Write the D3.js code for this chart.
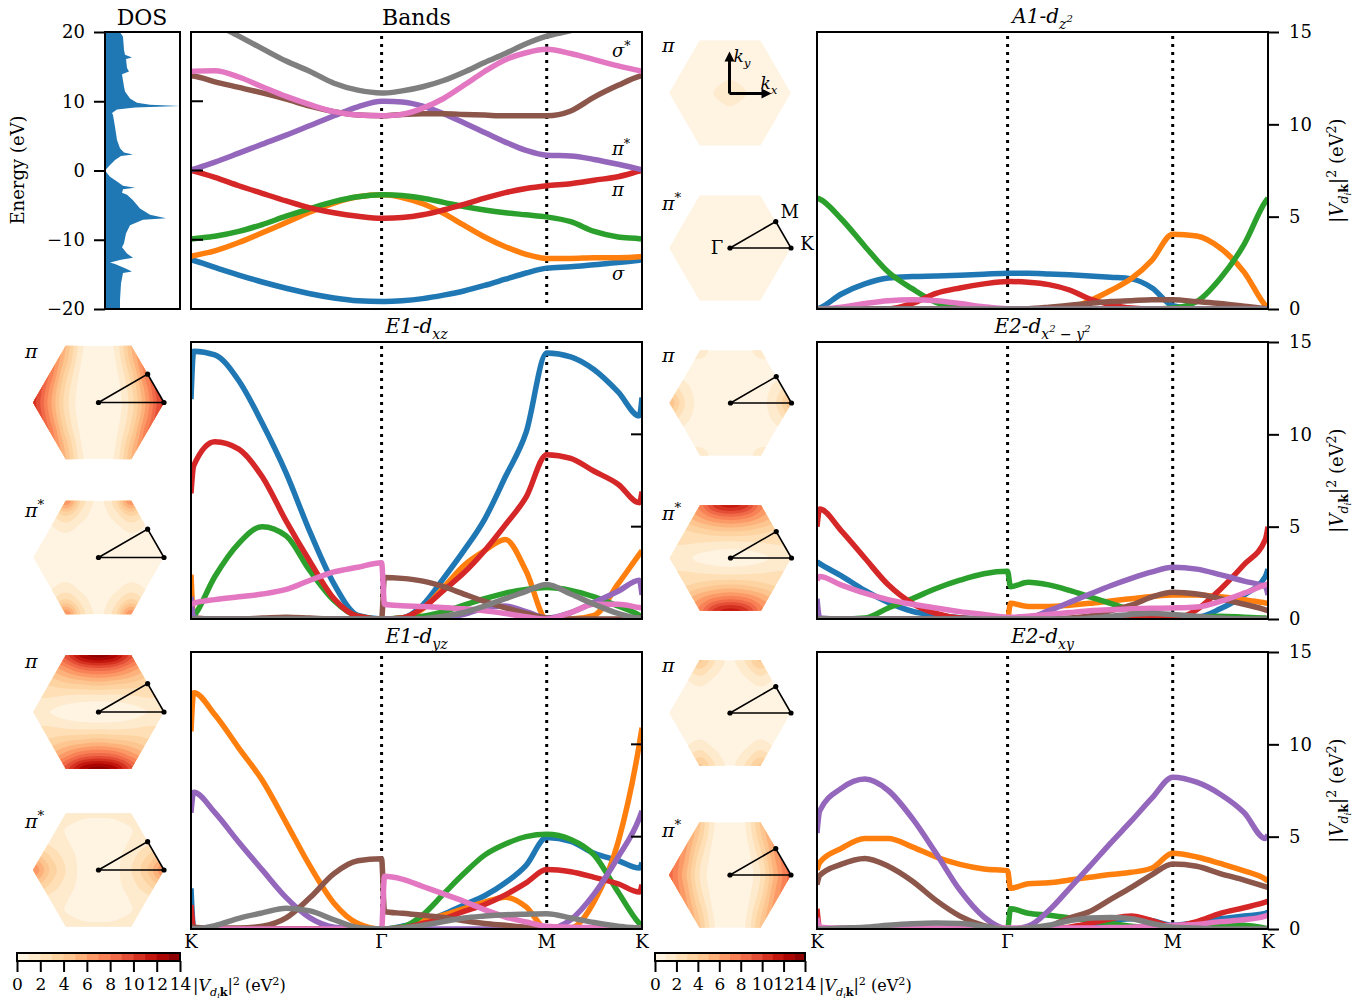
<!DOCTYPE html>
<html>
<head>
<meta charset="utf-8">
<script src="https://cdn.jsdelivr.net/npm/d3@7"></script>
<style>
  body { margin: 0; background: #fff; }
  text { font-family: "DejaVu Serif", serif; fill: #000; }
</style>
</head>
<body>
<svg id="fig" width="1371" height="1003"></svg>
<script>
// k-path positions as fraction of K-G-M-K length
const kPts = [0, 0.006, 0.053, 0.106, 0.158, 0.211, 0.264, 0.317, 0.370, 0.4226, 0.429, 0.468, 0.514, 0.560, 0.605, 0.651, 0.697, 0.743, 0.7887, 0.842, 0.894, 0.947, 0.994, 1];
const pathTicks = [0, 0.4226, 0.7887, 1];
const pathLabels = ["K", "Γ", "M", "K"];
const bandColors = ["#1f77b4", "#ff7f0e", "#2ca02c", "#d62728", "#9467bd", "#8c564b", "#e377c2", "#7f7f7f"];

// band energies (eV), order: blue, orange, green, red, purple, brown, pink, gray
const bandsE = [
  [-12.9, -13.0, -14.0, -15.1, -16.1, -17.0, -17.8, -18.4, -18.8, -18.9, -18.9, -18.8, -18.5, -18.0, -17.4, -16.6, -15.7, -14.8, -14.1, -13.9, -13.6, -13.3, -12.95, -12.9],
  [-12.4, -12.3, -11.6, -10.4, -9.0, -7.5, -6.0, -4.7, -3.8, -3.5, -3.5, -3.9, -4.8, -6.2, -7.9, -9.6, -11.0, -12.1, -12.7, -12.7, -12.6, -12.6, -12.45, -12.4],
  [-9.9, -9.85, -9.5, -8.8, -7.8, -6.6, -5.5, -4.5, -3.8, -3.5, -3.5, -3.6, -4.0, -4.6, -5.2, -5.7, -6.1, -6.4, -6.7, -7.4, -8.8, -9.6, -9.85, -9.9],
  [0, -0.1, -1.0, -2.2, -3.3, -4.4, -5.4, -6.1, -6.6, -6.9, -6.9, -6.8, -6.4, -5.7, -4.9, -4.0, -3.2, -2.6, -2.2, -1.9, -1.4, -0.9, -0.1, 0],
  [0.1, 0.2, 1.2, 2.5, 3.8, 5.1, 6.5, 7.9, 9.2, 10.0, 10.0, 9.9, 9.3, 8.2, 6.9, 5.5, 4.1, 2.9, 2.2, 2.1, 1.6, 0.9, 0.2, 0.1],
  [13.7, 13.65, 12.8, 12.0, 11.2, 10.3, 9.3, 8.5, 8.0, 7.9, 7.9, 8.1, 8.2, 8.2, 8.1, 8.0, 7.9, 7.9, 7.9, 8.6, 10.6, 12.3, 13.6, 13.7],
  [14.3, 14.35, 14.4, 13.5, 12.1, 10.7, 9.5, 8.5, 8.0, 7.9, 7.9, 8.1, 9.0, 10.4, 12.3, 14.3, 16.0, 17.0, 17.5, 16.9, 16.0, 15.1, 14.4, 14.3],
  [23.0, 22.9, 21.2, 19.4, 17.6, 15.8, 14.3, 12.6, 11.6, 11.2, 11.2, 11.5, 12.1, 13.0, 14.2, 15.6, 16.9, 18.3, 19.4, 20.2, 21.2, 22.2, 22.9, 23.0]
];

// |V_dk|^2 (eV^2) per band
const a1Dz2 = [
  [0, 0.05, 0.8, 1.36, 1.68, 1.76, 1.79, 1.83, 1.88, 1.94, 1.94, 1.94, 1.9, 1.85, 1.79, 1.72, 1.63, 1.14, 0.18, 0, 0, 0, 0, 0],
  [0, 0, 0, 0, 0, 0, 0, 0, 0, 0, 0, 0, 0, 0.05, 0.45, 1.0, 1.65, 2.65, 4.05, 3.95, 3.3, 2.0, 0.2, 0.05],
  [6.0, 5.95, 4.9, 3.4, 2.0, 1.1, 0.36, 0.1, 0.05, 0, 0, 0, 0, 0, 0, 0, 0, 0, 0.05, 0.4, 1.65, 3.5, 5.8, 6.0],
  [0, 0, 0, 0, 0, 0.3, 0.85, 1.14, 1.36, 1.49, 1.49, 1.45, 1.32, 1.03, 0.54, 0.24, 0.05, 0, 0, 0, 0, 0, 0, 0],
  [0, 0, 0, 0, 0, 0, 0, 0, 0, 0, 0, 0, 0, 0, 0, 0, 0, 0, 0, 0, 0, 0, 0, 0],
  [0, 0, 0, 0, 0, 0, 0, 0, 0, 0, 0, 0.02, 0.1, 0.2, 0.3, 0.4, 0.45, 0.5, 0.5, 0.4, 0.3, 0.15, 0.02, 0],
  [0, 0, 0.1, 0.3, 0.45, 0.5, 0.45, 0.3, 0.12, 0.02, 0.02, 0, 0, 0, 0, 0, 0, 0, 0, 0, 0, 0, 0, 0],
  [0, 0, 0, 0, 0, 0, 0, 0, 0, 0, 0, 0, 0, 0, 0, 0, 0, 0, 0, 0, 0, 0, 0, 0]
];
const e1Dxz = [
  [11.9, 14.5, 14.3, 12.9, 10.6, 7.9, 4.7, 1.9, 0.2, 0, 0, 0.05, 0.76, 2.2, 3.7, 5.4, 7.7, 10.1, 14.4, 14.2, 13.5, 12.3, 11.0, 12.0],
  [2.4, 0.05, 0, 0, 0, 0, 0, 0, 0, 0, 0, 0.05, 0.55, 1.7, 2.9, 3.7, 4.3, 2.6, 0, 0, 0.2, 1.9, 3.5, 3.7],
  [0, 0.15, 2.3, 4.1, 5.0, 4.5, 2.6, 1.0, 0.15, 0, 0, 0.05, 0.15, 0.4, 0.75, 1.1, 1.4, 1.6, 1.7, 1.55, 1.2, 0.7, 0.2, 0.1],
  [6.8, 8.3, 9.6, 9.2, 7.7, 5.3, 3.1, 1.1, 0.15, 0, 0, 0.05, 0.6, 1.55, 2.5, 3.7, 5.1, 6.6, 8.9, 8.7, 8.0, 7.3, 6.3, 6.9],
  [1.2, 0.05, 0, 0, 0, 0, 0, 0, 0, 0, 0, 0, 0, 0.05, 0.25, 0.6, 0.7, 0.4, 0.05, 0.35, 0.9, 1.5, 2.1, 1.3],
  [0, 0, 0, 0, 0.05, 0.1, 0.05, 0, 0, 0, 2.25, 2.2, 2.05, 1.75, 1.35, 0.95, 0.6, 0.3, 0.05, 0, 0, 0, 0.05, 0.1],
  [0.8, 0.85, 1.05, 1.2, 1.35, 1.6, 2.1, 2.55, 2.8, 3.05, 0.8, 0.72, 0.68, 0.62, 0.55, 0.45, 0.3, 0.12, 0, 0.35, 0.8, 0.8, 0.62, 0.6],
  [0, 0, 0, 0, 0, 0, 0, 0, 0, 0, 0, 0, 0.02, 0.15, 0.35, 0.7, 1.1, 1.5, 1.87, 1.35, 0.8, 0.3, 0.05, 0.05]
];
const e2Dx2y2 = [
  [3.1, 3.0, 2.35, 1.55, 0.9, 0.42, 0.2, 0.07, 0.02, 0, 0, 0, 0, 0, 0, 0, 0.02, 0.05, 0.1, 0.1, 0.55, 1.3, 2.3, 2.7],
  [0, 0, 0, 0, 0, 0, 0, 0, 0, 0, 0.85, 0.68, 0.68, 0.75, 0.85, 0.98, 1.1, 1.22, 1.3, 1.3, 1.2, 1.05, 0.87, 0.85],
  [0, 0, 0, 0.05, 0.6, 1.1, 1.65, 2.1, 2.45, 2.58, 1.75, 1.99, 1.85, 1.55, 1.2, 0.85, 0.5, 0.3, 0.15, 0.1, 0.15, 0.1, 0.05, 0],
  [5.0, 5.95, 4.8, 3.3, 1.85, 0.85, 0.3, 0.05, 0, 0, 0, 0, 0, 0.02, 0.05, 0.08, 0.1, 0.05, 0, 0.5, 1.6, 2.95, 4.3, 5.0],
  [1.1, 0.05, 0, 0, 0, 0, 0, 0, 0, 0, 0, 0.05, 0.45, 0.9, 1.35, 1.8, 2.2, 2.55, 2.8, 2.7, 2.4, 2.05, 1.75, 1.3],
  [0, 0, 0, 0, 0, 0, 0, 0, 0, 0, 0, 0, 0, 0.05, 0.17, 0.45, 0.75, 1.2, 1.45, 1.35, 1.1, 0.8, 0.5, 0.45],
  [2.1, 2.3, 1.85, 1.4, 1.05, 0.8, 0.6, 0.4, 0.25, 0.1, 0.1, 0.15, 0.25, 0.35, 0.45, 0.5, 0.55, 0.58, 0.6, 0.65, 0.95, 1.4, 1.85, 1.9],
  [0, 0, 0, 0, 0, 0, 0, 0, 0, 0, 0, 0, 0, 0, 0.05, 0.15, 0.25, 0.3, 0.25, 0.15, 0.05, 0, 0, 0]
];
const e1Dyz = [
  [2.2, 0.05, 0, 0, 0, 0, 0, 0, 0, 0, 0, 0.15, 0.4, 0.8, 1.3, 1.8, 2.5, 3.45, 4.95, 4.75, 4.1, 3.7, 3.3, 3.6],
  [10.7, 12.8, 11.6, 9.8, 8.05, 5.75, 3.4, 1.4, 0.3, 0, 0, 0.1, 0.45, 0.75, 1.1, 1.45, 1.72, 1.2, 0, 0.05, 1.5, 4.7, 10.0, 10.9],
  [0, 0, 0, 0, 0, 0, 0, 0, 0, 0, 0, 0.1, 0.77, 1.9, 3.0, 4.0, 4.6, 5.0, 5.13, 4.85, 4.0, 2.0, 0.3, 0.15],
  [1.3, 0.05, 0, 0, 0, 0, 0, 0, 0, 0, 0, 0.05, 0.3, 0.56, 0.95, 1.33, 1.85, 2.5, 3.22, 3.1, 2.8, 2.45, 2.0, 2.4],
  [6.3, 7.4, 6.3, 4.7, 3.2, 1.7, 0.6, 0.1, 0, 0, 0, 0, 0, 0, 0, 0, 0, 0, 0, 0.5, 1.9, 3.9, 6.0, 6.4],
  [0.15, 0.1, 0.05, 0.05, 0.15, 0.6, 1.7, 3.0, 3.7, 3.8, 0.95, 0.85, 0.75, 0.62, 0.45, 0.3, 0.2, 0.1, 0.05, 0, 0, 0, 0, 0],
  [0, 0, 0, 0, 0, 0, 0, 0, 0, 0, 2.85, 2.7, 2.3, 1.9, 1.5, 1.05, 0.65, 0.38, 0.15, 0.1, 0.08, 0.05, 0.05, 0.05],
  [0, 0, 0.18, 0.58, 0.87, 1.12, 0.98, 0.5, 0.08, 0, 0, 0.05, 0.2, 0.4, 0.6, 0.7, 0.77, 0.8, 0.82, 0.6, 0.35, 0.15, 0.05, 0.05]
];
const e2Dxy = [
  [0, 0, 0, 0, 0, 0, 0, 0, 0, 0, 0, 0, 0, 0, 0.2, 0.45, 0.55, 0.45, 0.2, 0.35, 0.55, 0.7, 0.85, 0.9],
  [3.2, 3.6, 4.35, 4.9, 4.9, 4.45, 3.9, 3.5, 3.25, 3.16, 2.2, 2.45, 2.5, 2.65, 2.8, 2.95, 3.07, 3.3, 4.1, 3.9, 3.55, 3.15, 2.7, 2.6],
  [0, 0, 0, 0, 0, 0, 0, 0, 0, 0, 1.1, 0.85, 0.75, 0.6, 0.45, 0.3, 0.15, 0.05, 0, 0.1, 0.25, 0.2, 0.05, 0],
  [1.1, 0.05, 0, 0, 0, 0, 0, 0, 0, 0, 0, 0, 0, 0.1, 0.3, 0.55, 0.7, 0.45, 0.15, 0.4, 0.85, 1.15, 1.45, 1.5],
  [5.2, 6.4, 7.6, 8.12, 7.5, 6.0, 4.1, 2.1, 0.65, 0, 0, 0.15, 1.0, 2.2, 3.4, 4.65, 5.85, 7.1, 8.22, 7.95, 7.3, 6.3, 4.9, 5.1],
  [2.4, 2.9, 3.5, 3.82, 3.4, 2.6, 1.55, 0.7, 0.18, 0, 0, 0, 0.15, 0.6, 0.95, 1.6, 2.25, 2.95, 3.52, 3.4, 3.0, 2.65, 2.3, 2.25],
  [0.6, 0.1, 0.05, 0.05, 0.05, 0.05, 0.05, 0.05, 0.05, 0.05, 0.05, 0.05, 0.05, 0.05, 0.05, 0.08, 0.1, 0.15, 0.2, 0.25, 0.4, 0.5, 0.7, 0.75],
  [0, 0, 0.05, 0.1, 0.2, 0.28, 0.32, 0.3, 0.15, 0, 0, 0.05, 0.2, 0.45, 0.6, 0.62, 0.55, 0.3, 0.1, 0.05, 0, 0, 0, 0]
];

// density of states (arb. units) vs energy
const dosE = [20.0, 19.3, 17.4, 16.7, 16.3, 16.1, 14.8, 14.3, 13.9, 12.1, 11.4, 10.4, 9.8, 9.5, 9.3, 9.1, 8.8, 8.3, 8.0, 6.3, 4.4, 3.2, 2.6, 2.3, 2.1, 1.5, 0.8, 0, -0.9, -1.6, -2.2, -2.5, -2.7, -3.2, -3.5, -4.3, -5.5, -6.4, -6.9, -7.1, -7.9, -9.1, -10.5, -11.1, -12.0, -12.6, -12.9, -13.3, -13.5, -14.1, -14.6, -14.8, -16.3, -18.7, -19.7, -20];
const dosVal = [15, 18, 19, 20, 27, 21, 22, 24, 17, 19, 20, 25, 32, 45, 75, 30, 12, 7, 8, 10, 12, 15, 19, 28, 16, 10, 5, 0, 5, 12, 18, 30, 18, 17, 22, 28, 35, 45, 61, 38, 25, 21, 19, 17, 22, 28, 16, 5, 10, 20, 27, 18, 16, 15, 15, 15];

// hexagon maps: quarter grids, rows ky = 0..top edge, cols kx = 0..K vertex
const mapA1Pi = [[1.6, 1.05, 0.3, 0.3, 0.3], [1.0, 0.6, 0.3, 0.3, 0.3], [0.3, 0.3, 0.3, 0.3, 0.3], [0.3, 0.3, 0.3, 0.3, 0.3], [0.3, 0.3, 0.3, 0.3, 0.3]];
const mapA1PiS = [[0.3, 0.3, 0.3, 0.3, 0.3], [0.3, 0.3, 0.3, 0.3, 0.3], [0.3, 0.3, 0.3, 0.3, 0.3], [0.3, 0.3, 0.3, 0.3, 0.3], [0.3, 0.3, 0.3, 0.3, 0.3]];
const mapE1xzPi = [[0, 0.3, 2.5, 6.5, 10.5], [0, 0.4, 2.8, 7.0, 11], [0, 0.6, 3.5, 8.0, 11], [0, 0.9, 4.5, 8.5, 11], [0.1, 1.2, 5.0, 9, 11]];
const mapE1xzPiS = [[0.2, 0.2, 0.3, 0.2, 0.1], [0.2, 0.3, 0.5, 0.3, 0.1], [0.3, 0.6, 1.3, 0.7, 0.2], [0.5, 1.5, 3.2, 1.5, 0.3], [0.8, 2.6, 7.0, 2.6, 0.5]];
const mapE2x2Pi = [[0.1, 0.2, 0.6, 2.0, 4.8], [0.1, 0.2, 0.5, 1.5, 3.0], [0.1, 0.2, 0.4, 0.8, 1.5], [0.1, 0.2, 0.6, 0.8, 1.0], [0.1, 0.3, 1.8, 1.0, 0.5]];
const mapE2x2PiS = [[0.5, 0.6, 0.8, 1.2, 1.5], [1.5, 1.6, 1.8, 2.0, 2.0], [4.0, 3.8, 3.3, 2.8, 2.5], [7.5, 7.0, 5.8, 4.5, 3.5], [11.5, 10.5, 7.5, 6, 4]];
const mapE1yzPi = [[0.3, 0.4, 0.6, 1.0, 1.0], [1.5, 1.5, 1.7, 2.0, 2.0], [4.5, 4.2, 3.8, 3.2, 3.0], [8.5, 8.0, 6.5, 5, 4], [13.5, 12.5, 9.5, 7, 5]];
const mapE1yzPiS = [[0.4, 0.7, 2.0, 4.0, 7.0], [0.4, 0.7, 1.6, 3.0, 4.5], [0.4, 0.6, 1.1, 1.7, 2.5], [0.5, 0.7, 1.0, 1.2, 1.5], [1.2, 1.2, 1.5, 1.3, 1.0]];
const mapE2xyPi = [[0.2, 0.2, 0.3, 0.2, 0.1], [0.2, 0.3, 0.4, 0.3, 0.1], [0.3, 0.5, 1.0, 0.5, 0.2], [0.5, 1.2, 2.3, 1.2, 0.3], [0.8, 2.1, 4.2, 2.1, 0.5]];
const mapE2xyPiS = [[0, 0.3, 2.0, 5.5, 8.5], [0, 0.4, 2.3, 6.0, 8.5], [0, 0.5, 3.0, 6.5, 8.5], [0, 0.8, 3.8, 7.0, 8.5], [0.1, 1.0, 4.2, 7.0, 8.5]];

const cbTicks = [0, 2, 4, 6, 8, 10, 12, 14];
const levelColor = t => d3.interpolateOrRd((t + 0.5) / 14);

const svg = d3.select("#fig");
let clipN = 0;

function rich(g, x, y, parts, size, opt) {
  opt = opt || {};
  const t = g.append("text").attr("x", x).attr("y", y).attr("font-size", size)
    .attr("text-anchor", opt.anchor || "middle");
  if (opt.rotate) t.attr("transform", `rotate(-90,${x},${y})`);
  if (opt.italic) t.attr("font-style", "italic");
  let cur = 0;
  parts.forEach(p => {
    const s = (p.s || 0) * size;
    const ts = t.append("tspan").text(p.t).attr("dy", s - cur);
    cur = s;
    if (p.z) ts.attr("font-size", size * p.z);
    if (p.i) ts.attr("font-style", "italic");
    if (p.b) ts.attr("font-weight", "bold");
  });
  return t;
}
const vdkParts = [{ t: "|" }, { t: "V", i: 1 }, { t: "d", i: 1, z: 0.7, s: 0.3 }, { t: "i", i: 1, z: 0.5, s: 0.45 },
  { t: "k", b: 1, z: 0.7, s: 0.3 }, { t: "|", s: 0 }, { t: "2", z: 0.7, s: -0.4 }, { t: " (eV", s: 0 }, { t: "2", z: 0.7, s: -0.4 }, { t: ")", s: 0 }];

function panel(cfg) {
  const x = d3.scaleLinear().domain([0, 1]).range([cfg.x0, cfg.x1]);
  const y = d3.scaleLinear().domain(cfg.yDom).range([cfg.y1, cfg.y0]);
  const g = svg.append("g");
  const id = "clip" + (clipN++);
  g.append("clipPath").attr("id", id).append("rect")
    .attr("x", cfg.x0).attr("y", cfg.y0).attr("width", cfg.x1 - cfg.x0).attr("height", cfg.y1 - cfg.y0);
  const inner = g.append("g").attr("clip-path", `url(#${id})`);
  [pathTicks[1], pathTicks[2]].forEach(k => {
    inner.append("line").attr("x1", x(k)).attr("x2", x(k)).attr("y1", cfg.y0 + 4).attr("y2", cfg.y1)
      .attr("stroke", "#000").attr("stroke-width", 3).attr("stroke-dasharray", "3,5");
  });
  const line = d3.line().x((d, j) => x(kPts[j])).y(d => y(d)).curve(d3.curveMonotoneX);
  cfg.series.forEach((vals, i) => {
    inner.append("path").attr("d", line(vals)).attr("fill", "none")
      .attr("stroke", bandColors[i]).attr("stroke-width", 5.5).attr("stroke-linejoin", "round");
  });
  g.append("rect").attr("x", cfg.x0).attr("y", cfg.y0).attr("width", cfg.x1 - cfg.x0).attr("height", cfg.y1 - cfg.y0)
    .attr("fill", "none").attr("stroke", "#000").attr("stroke-width", 2);
  if (cfg.xLabels) {
    pathTicks.forEach((k, i) => g.append("text").attr("x", x(k)).attr("y", cfg.y1 + 19)
      .attr("text-anchor", "middle").attr("font-size", 18).text(pathLabels[i]));
  }
  return { x, y, g };
}

// DOS panel
const dosX = d3.scaleLinear().domain([0, 75]).range([105, 180]);
const eY = d3.scaleLinear().domain([-20, 20]).range([309, 32]);
svg.append("path")
  .attr("d", d3.area().y((d, i) => eY(dosE[i])).x0(dosX(0)).x1(d => dosX(d))(dosVal))
  .attr("fill", "#1f77b4");
svg.append("rect").attr("x", 105).attr("y", 32).attr("width", 75).attr("height", 277)
  .attr("fill", "none").attr("stroke", "#000").attr("stroke-width", 2);
const eAxis = svg.append("g").attr("transform", "translate(105,0)")
  .call(d3.axisLeft(eY).tickValues([-20, -10, 0, 10, 20]).tickSize(11).tickPadding(9).tickFormat(d => d < 0 ? "−" + (-d) : d));
eAxis.select(".domain").remove();
eAxis.selectAll("line").attr("stroke-width", 2);
eAxis.selectAll("text").attr("font-size", 18).attr("font-family", "DejaVu Serif");
svg.append("text").attr("x", 142).attr("y", 25).attr("text-anchor", "middle").attr("font-size", 22).text("DOS");
svg.append("text").attr("transform", "translate(24,170) rotate(-90)").attr("text-anchor", "middle")
  .attr("font-size", 18).text("Energy (eV)");

// Bands panel
const bp = panel({ x0: 191, x1: 642, y0: 32, y1: 309, yDom: [-20, 20], series: bandsE });
[-10, 0, 10].forEach(v => bp.g.append("line").attr("x1", 191).attr("x2", 203).attr("y1", bp.y(v)).attr("y2", bp.y(v))
  .attr("stroke", "#000").attr("stroke-width", 2));
svg.append("text").attr("x", 416.5).attr("y", 25).attr("text-anchor", "middle").attr("font-size", 22).text("Bands");
[["σ", 612, 57], ["π", 612, 155], ["π", 612, 196, true], ["σ", 612, 280, true]].forEach(d => {
  const parts = d[3] ? [{ t: d[0] }] : [{ t: d[0] }, { t: "*", z: 0.7, s: -0.4 }];
  rich(svg, d[1], d[2], parts, 18, { anchor: "start", italic: true });
});

// coupling panels
const rows = [[32, 309], [342, 619], [652, 929]];
const vPanels = [
  { x0: 817, x1: 1268, row: 0, series: a1Dz2, title: [{ t: "A1-d" }, { t: "z", z: 0.7, s: 0.3 }, { t: "2", z: 0.5, s: -0.05 }] },
  { x0: 191, x1: 642, row: 1, series: e1Dxz, title: [{ t: "E1-d" }, { t: "xz", z: 0.7, s: 0.3 }] },
  { x0: 817, x1: 1268, row: 1, series: e2Dx2y2, title: [{ t: "E2-d" }, { t: "x", z: 0.7, s: 0.3 }, { t: "2", z: 0.5, s: -0.05 }, { t: " − y", z: 0.7, s: 0.3 }, { t: "2", z: 0.5, s: -0.05 }] },
  { x0: 191, x1: 642, row: 2, series: e1Dyz, title: [{ t: "E1-d" }, { t: "yz", z: 0.7, s: 0.3 }] },
  { x0: 817, x1: 1268, row: 2, series: e2Dxy, title: [{ t: "E2-d" }, { t: "xy", z: 0.7, s: 0.3 }] }
];
vPanels.forEach(p => {
  const y0 = rows[p.row][0], y1 = rows[p.row][1];
  const pp = panel({ x0: p.x0, x1: p.x1, y0: y0, y1: y1, yDom: [0, 15], series: p.series, xLabels: p.row === 2 });
  rich(svg, (p.x0 + p.x1) / 2, y0 - 9, p.title, 20, { italic: true });
  if (p.x0 > 700) {
    const ax = svg.append("g").attr("transform", `translate(${p.x1},0)`)
      .call(d3.axisRight(pp.y).tickValues([0, 5, 10, 15]).tickSize(11).tickPadding(10));
    ax.select(".domain").remove();
    ax.selectAll("line").attr("stroke-width", 2);
    ax.selectAll("text").attr("font-size", 18).attr("font-family", "DejaVu Serif");
    rich(svg, 1343, (y0 + y1) / 2, vdkParts, 18, { rotate: true });
  } else {
    [5, 10, 15].forEach(v => pp.g.append("line").attr("x1", p.x1 - 11).attr("x2", p.x1).attr("y1", pp.y(v)).attr("y2", pp.y(v))
      .attr("stroke", "#000").attr("stroke-width", 2));
  }
});

// Brillouin-zone maps
function mirrorGrid(q) {
  const g = [];
  for (let j = 0; j < 9; j++) for (let i = 0; i < 9; i++) g.push(q[Math.abs(4 - j)][Math.abs(i - 4)]);
  return g;
}
function upsample(g, n, f) {
  const m = (n - 1) * f + 1, out = new Array(m * m);
  const at = (i, j) => g[Math.max(0, Math.min(n - 1, j)) * n + Math.max(0, Math.min(n - 1, i))];
  const cub = (a, b, c, d, t) => 0.5 * (2 * b + (c - a) * t + (2 * a - 5 * b + 4 * c - d) * t * t + (3 * b - a - 3 * c + d) * t * t * t);
  for (let Y = 0; Y < m; Y++) for (let X = 0; X < m; X++) {
    const gx = X / f, gy = Y / f;
    const i = Math.min(n - 2, Math.floor(gx)), j = Math.min(n - 2, Math.floor(gy));
    const r = [];
    for (let k = -1; k <= 2; k++) r.push(cub(at(i - 1, j + k), at(i, j + k), at(i + 1, j + k), at(i + 2, j + k), gx - i));
    out[Y * m + X] = Math.max(0, cub(r[0], r[1], r[2], r[3], gy - j));
  }
  return out;
}
const hexVerts = [[1, 0], [0.5, 0.866], [-0.5, 0.866], [-1, 0], [-0.5, -0.866], [0.5, -0.866]];

function hexMap(h) {
  const g = svg.append("g");
  const id = "clip" + (clipN++);
  const pts = hexVerts.map(v => [h.cx + v[0] * h.R, h.cy - v[1] * h.R]);
  g.append("clipPath").attr("id", id).append("polygon").attr("points", pts.map(p => p.join(",")).join(" "));
  const inner = g.append("g").attr("clip-path", `url(#${id})`);
  inner.append("polygon").attr("points", pts.map(p => p.join(",")).join(" ")).attr("fill", levelColor(0));
  const f = 8, m = 8 * f + 1;
  const vals = upsample(mirrorGrid(h.field), 9, f);
  const proj = d3.geoTransform({
    point: function (px, py) {
      this.stream.point(h.cx + (-1 + (px - 0.5) / (m - 1) * 2) * h.R, h.cy - (0.866 - (py - 0.5) / (m - 1) * 1.732) * h.R);
    }
  });
  const path = d3.geoPath(proj);
  d3.contours().size([m, m]).thresholds(d3.range(1, 15))(vals).forEach(c => {
    if (c.coordinates.length) inner.append("path").attr("d", path(c)).attr("fill", levelColor(c.value));
  });
  const parts = h.star ? [{ t: "π" }, { t: "*", z: 0.7, s: -0.4 }] : [{ t: "π" }];
  rich(svg, h.lx, h.ly, parts, 19, { anchor: "start", italic: true });
  if (h.axes) {
    const ox = h.cx - 0.5, oy = h.cy + 0.5;
    g.append("line").attr("x1", ox).attr("y1", oy).attr("x2", ox).attr("y2", oy - 34).attr("stroke", "#000").attr("stroke-width", 3);
    g.append("line").attr("x1", ox).attr("y1", oy).attr("x2", ox + 34).attr("y2", oy).attr("stroke", "#000").attr("stroke-width", 3);
    g.append("polygon").attr("points", `${ox - 5},${oy - 32} ${ox + 5},${oy - 32} ${ox},${oy - 42}`);
    g.append("polygon").attr("points", `${ox + 32},${oy - 5} ${ox + 32},${oy + 5} ${ox + 42},${oy}`);
    rich(svg, ox + 4, oy - 32, [{ t: "k", i: 1 }, { t: "y", i: 1, z: 0.7, s: 0.3 }], 17, { anchor: "start" });
    rich(svg, ox + 31, oy - 5, [{ t: "k", i: 1 }, { t: "x", i: 1, z: 0.7, s: 0.3 }], 17, { anchor: "start" });
  } else {
    const tri = [[h.cx, h.cy], [h.cx + 0.75 * h.R, h.cy - 0.433 * h.R], [h.cx + h.R, h.cy]];
    g.append("polygon").attr("points", tri.map(p => p.join(",")).join(" "))
      .attr("fill", "none").attr("stroke", "#000").attr("stroke-width", 1.6);
    tri.forEach(p => g.append("circle").attr("cx", p[0]).attr("cy", p[1]).attr("r", 2.6).attr("fill", "#000"));
    if (h.triLabels) {
      [["Γ", tri[0][0] - 13, tri[0][1] + 6], ["M", tri[1][0] + 14, tri[1][1] - 4], ["K", tri[2][0] + 16, tri[2][1] + 2]]
        .forEach(d => g.append("text").attr("x", d[1]).attr("y", d[2]).attr("text-anchor", "middle").attr("font-size", 18).text(d[0]));
    }
  }
}
[
  { cx: 730, cy: 93, R: 61, field: mapA1Pi, lx: 662, ly: 52, axes: true },
  { cx: 730, cy: 248, R: 61, field: mapA1PiS, lx: 662, ly: 210, star: true, triLabels: true },
  { cx: 98.5, cy: 402.5, R: 65.5, field: mapE1xzPi, lx: 25, ly: 358 },
  { cx: 98.5, cy: 557.5, R: 65.5, field: mapE1xzPiS, lx: 25, ly: 517, star: true },
  { cx: 730.5, cy: 403, R: 61, field: mapE2x2Pi, lx: 662, ly: 362 },
  { cx: 730.5, cy: 558, R: 61, field: mapE2x2PiS, lx: 662, ly: 520, star: true },
  { cx: 98.5, cy: 712, R: 65.5, field: mapE1yzPi, lx: 25, ly: 668 },
  { cx: 98.5, cy: 870, R: 65.5, field: mapE1yzPiS, lx: 25, ly: 828, star: true },
  { cx: 730, cy: 713, R: 61, field: mapE2xyPi, lx: 662, ly: 672 },
  { cx: 730, cy: 875, R: 61, field: mapE2xyPiS, lx: 662, ly: 837, star: true }
].forEach(hexMap);

// colorbars
function colorbar(x0, x1, labelX) {
  const cx = d3.scaleLinear().domain([0, 14]).range([x0, x1]);
  const g = svg.append("g");
  d3.range(0, 14).forEach(t => g.append("rect").attr("x", cx(t)).attr("y", 953).attr("width", cx(t + 1) - cx(t) + 0.5)
    .attr("height", 8).attr("fill", levelColor(t)));
  g.append("rect").attr("x", x0).attr("y", 953).attr("width", x1 - x0).attr("height", 8)
    .attr("fill", "none").attr("stroke", "#000").attr("stroke-width", 2);
  const ax = g.append("g").attr("transform", "translate(0,961)")
    .call(d3.axisBottom(cx).tickValues(cbTicks).tickSize(11).tickPadding(6));
  ax.select(".domain").remove();
  ax.selectAll("line").attr("stroke-width", 2);
  ax.selectAll("text").attr("font-size", 17).attr("font-family", "DejaVu Serif");
  rich(svg, labelX, 991, vdkParts, 16, { anchor: "start" });
}
colorbar(17, 180, 193);
colorbar(655, 805, 819);
</script>
</body>
</html>
